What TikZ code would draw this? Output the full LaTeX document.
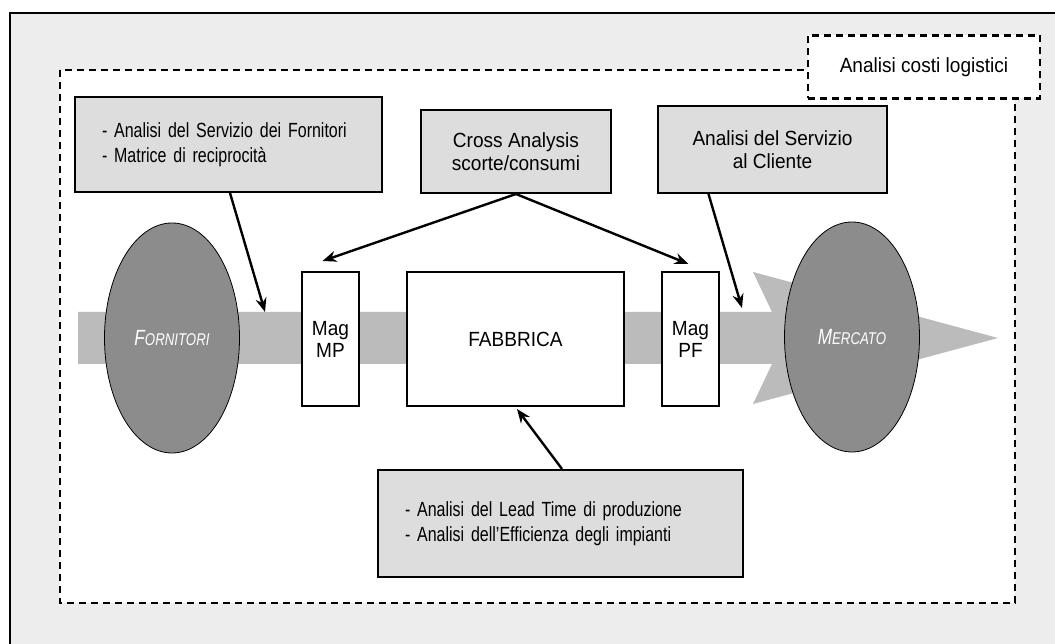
\documentclass[tikz,border=0pt]{standalone}
\usepackage{fontspec}
\setmainfont{Liberation Sans}[FakeStretch=0.93]
\newfontfamily\narrowfont{Liberation Sans}[FakeStretch=0.78]
\usetikzlibrary{arrows.meta,shapes.geometric}
\definecolor{bgGrey}{HTML}{EDEDED}
\definecolor{boxFill}{HTML}{DDDDDD}
\definecolor{bandC}{HTML}{BBBBBB}
\definecolor{actorC}{HTML}{8C8C8C}
\tikzset{
  >={Stealth[length=14pt,width=11pt]},
  frame/.style={draw,line width=2.4pt,dash pattern=on 7pt off 5pt},
  tag/.style={frame,fill=white,font={\fontsize{20.5}{22}\selectfont},inner sep=0pt},
  greybox/.style={draw,line width=2pt,fill=boxFill,align=center,inner sep=0pt,
    font={\fontsize{20.5}{22.5}\selectfont}},
  listbox/.style={draw,line width=2pt,fill=boxFill,align=left,inner ysep=0pt,inner xsep=27pt,
    font={\narrowfont\fontsize{20.5}{25.5}\selectfont}},
  magbox/.style={draw,line width=2pt,fill=white,minimum width=57,minimum height=134,
    align=center,inner sep=0pt,font={\fontsize{20.5}{22}\selectfont}},
  actor/.style={ellipse,draw,line width=0.8pt,fill=actorC,minimum width=135,minimum height=230,
    inner sep=0pt,text=white,font={\narrowfont\itshape}},
  conn/.style={->,line width=2.4pt},
}
\newcommand{\bigc}[1]{{\fontsize{22}{22}\selectfont #1}}
\newcommand{\smallc}[1]{{\fontsize{17}{17}\selectfont #1}}

\begin{document}
\begin{tikzpicture}[x=1pt,y=1pt]
\useasboundingbox (0,0) rectangle (1055,643);
\clip (0,0) rectangle (1055,643);

% ---------- frames ----------
\draw[line width=2pt,fill=bgGrey] (10,630) rectangle (1080,-20);
\draw[frame,fill=white] (60,573) rectangle (1015,40);
\node[tag,minimum width=232,minimum height=63] (costi) at (924,576) {Analisi costi logistici};

% ---------- flow band ----------
\fill[bandC] (78,331) -- (772,331) -- (753,371) -- (998,305) -- (753,239) -- (772,279) -- (78,279) -- cycle;
\coordinate (supIn) at (265,331);
\coordinate (cliIn) at (742,335);

% ---------- actors ----------
\node[actor] (forn) at (172,305) {\bigc{F}\smallc{ORNITORI}};
\node[actor] (merc) at (852,306) {\bigc{M}\smallc{ERCATO}};

% ---------- stores and plant ----------
\node[magbox] (mp) at (330.5,304) {Mag\\MP};
\node[magbox,minimum width=217] (fab) at (515.5,304) {FABBRICA};
\node[magbox] (pf) at (690.5,304) {Mag\\PF};

% ---------- analyses ----------
\node[listbox,text width=253,minimum height=95] (sup) at (228.5,498.5)
  {- Analisi del Servizio dei Fornitori\\- Matrice di reciprocità};
\node[greybox,minimum width=190,minimum height=83] (cross) at (516,491.5)
  {Cross Analysis\\scorte/consumi};
\node[greybox,minimum width=229,minimum height=87] (cli) at (772.5,493.5)
  {Analisi del Servizio\\al Cliente};
\node[listbox,text width=311,minimum height=107] (low) at (560.5,119.5)
  {- Analisi del Lead Time di produzione\\- Analisi dell’Efficienza degli impianti};

% ---------- connectors ----------
\draw[conn] ([xshift=1.5pt]sup.south) -- (supIn);
\draw[conn] (cross.south) -- ([xshift=-8pt,yshift=10pt]mp.north);
\draw[conn] (cross.south) -- ([xshift=-2pt,yshift=7pt]pf.north);
\draw[conn] ([xshift=-64pt]cli.south) -- (cliIn);
\draw[conn] ([xshift=1.5pt]low.north) -- ([xshift=1.5pt,yshift=-2pt]fab.south);

\end{tikzpicture}
\end{document}
